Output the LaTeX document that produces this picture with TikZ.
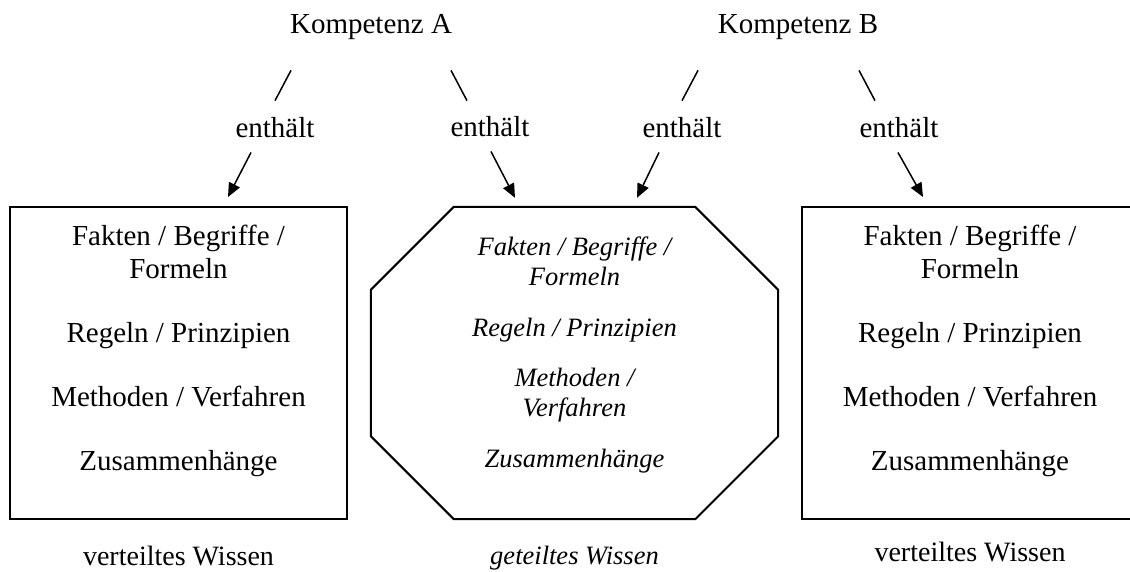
\documentclass[tikz,border=0pt]{standalone}
\usepackage{fontspec}
\setmainfont{Liberation Serif}
\usetikzlibrary{arrows.meta}
\tikzset{
  txt/.style = {inner sep=0pt, anchor=base, font=\fontsize{29}{33}\selectfont},
  unten/.style = {inner sep=0pt, anchor=base, font=\fontsize{28}{32}\selectfont},
  liste/.style = {inner sep=0pt, anchor=north, align=center, font=\fontsize{29}{33}\selectfont},
  kursiv/.style = {inner sep=0pt, align=center, font=\fontsize{26.5}{30}\selectfont\itshape},
  rahmen/.style = {draw, line width=2pt, minimum width=337pt, minimum height=312pt, inner sep=0pt},
  pfeil/.style = {-{Triangle[length=14pt,width=12pt]}, line width=1.5pt},
  strich/.style = {line width=1.5pt}
}
\begin{document}
\begin{tikzpicture}[x = 1pt, y = -1pt]
	\useasboundingbox (0,0) rectangle (1130,571);
	\node[txt] (kA) at (371,33) {Kompetenz A};
	\node[txt] (kB) at (798,33) {Kompetenz B};
	\node[txt] (e1) at (275,137) {enthält};
	\node[txt] (e2) at (490,136) {enthält};
	\node[txt] (e3) at (682,137) {enthält};
	\node[txt] (e4) at (899,137) {enthält};
	% die drei Wissensbereiche
	\node[rahmen] (boxA) at (178.5,363) {};
	\node[inner sep=0pt, minimum width=407pt, minimum height=312pt] (oct) at (574.5,363) {};
	\draw[line width=2pt] ([xshift=83pt]oct.north west) -- ([xshift=-83pt]oct.north east) -- ([yshift=-83pt]oct.north east) -- ([yshift=83pt]oct.south east) -- ([xshift=-83pt]oct.south east) -- ([xshift=83pt]oct.south west) -- ([yshift=83pt]oct.south west) -- ([yshift=-83pt]oct.north west) -- cycle;
	\node[rahmen] (boxB) at (970,363) {};
	\node[liste] (listA) at (178.5,225) {Fakten / Begriffe /\\ Formeln\\[31pt] Regeln / Prinzipien\\[31pt] Methoden / Verfahren\\[31pt] Zusammenhänge};
	\node[kursiv, anchor=north] (listO) at (574.5,237) {Fakten / Begriffe /\\ Formeln\\[20.5pt] Regeln / Prinzipien\\[20.5pt] Methoden /\\ Verfahren\\[20.5pt] Zusammenhänge};
	\node[liste] (listB) at (970,225) {Fakten / Begriffe /\\ Formeln\\[31pt] Regeln / Prinzipien\\[31pt] Methoden / Verfahren\\[31pt] Zusammenhänge};
	\node[unten] (vA) at (178.5,565) {verteiltes Wissen};
	\node[kursiv, anchor=base] (gW) at (574.5,564) {geteiltes Wissen};
	\node[unten] (vB) at (970,561) {verteiltes Wissen};
	% Striche
	\draw[strich] ([shift={(-80,31)}]kA.south) -- ([shift={(0,-16)}]e1.north);
	\draw[strich] ([shift={(80,31)}]kA.south) -- ([shift={(-23,-15)}]e2.north);
	\draw[strich] ([shift={(-100,31)}]kB.south) -- ([shift={(0,-16)}]e3.north);
	\draw[strich] ([shift={(61,31)}]kB.south) -- ([shift={(-24,-16)}]e4.north);
	% Pfeile
	\draw[pfeil] ([shift={(-24,15)}]e1.south) -- ([shift={(49.5,-9)}]boxA.north);
	\draw[pfeil] ([shift={(1,15)}]e2.south) -- ([shift={(-59.5,-9)}]oct.north);
	\draw[pfeil] ([shift={(-23,15)}]e3.south) -- ([shift={(62.5,-9)}]oct.north);
	\draw[pfeil] ([shift={(-1,15)}]e4.south) -- ([shift={(-47,-9)}]boxB.north);
\end{tikzpicture}
\end{document}
